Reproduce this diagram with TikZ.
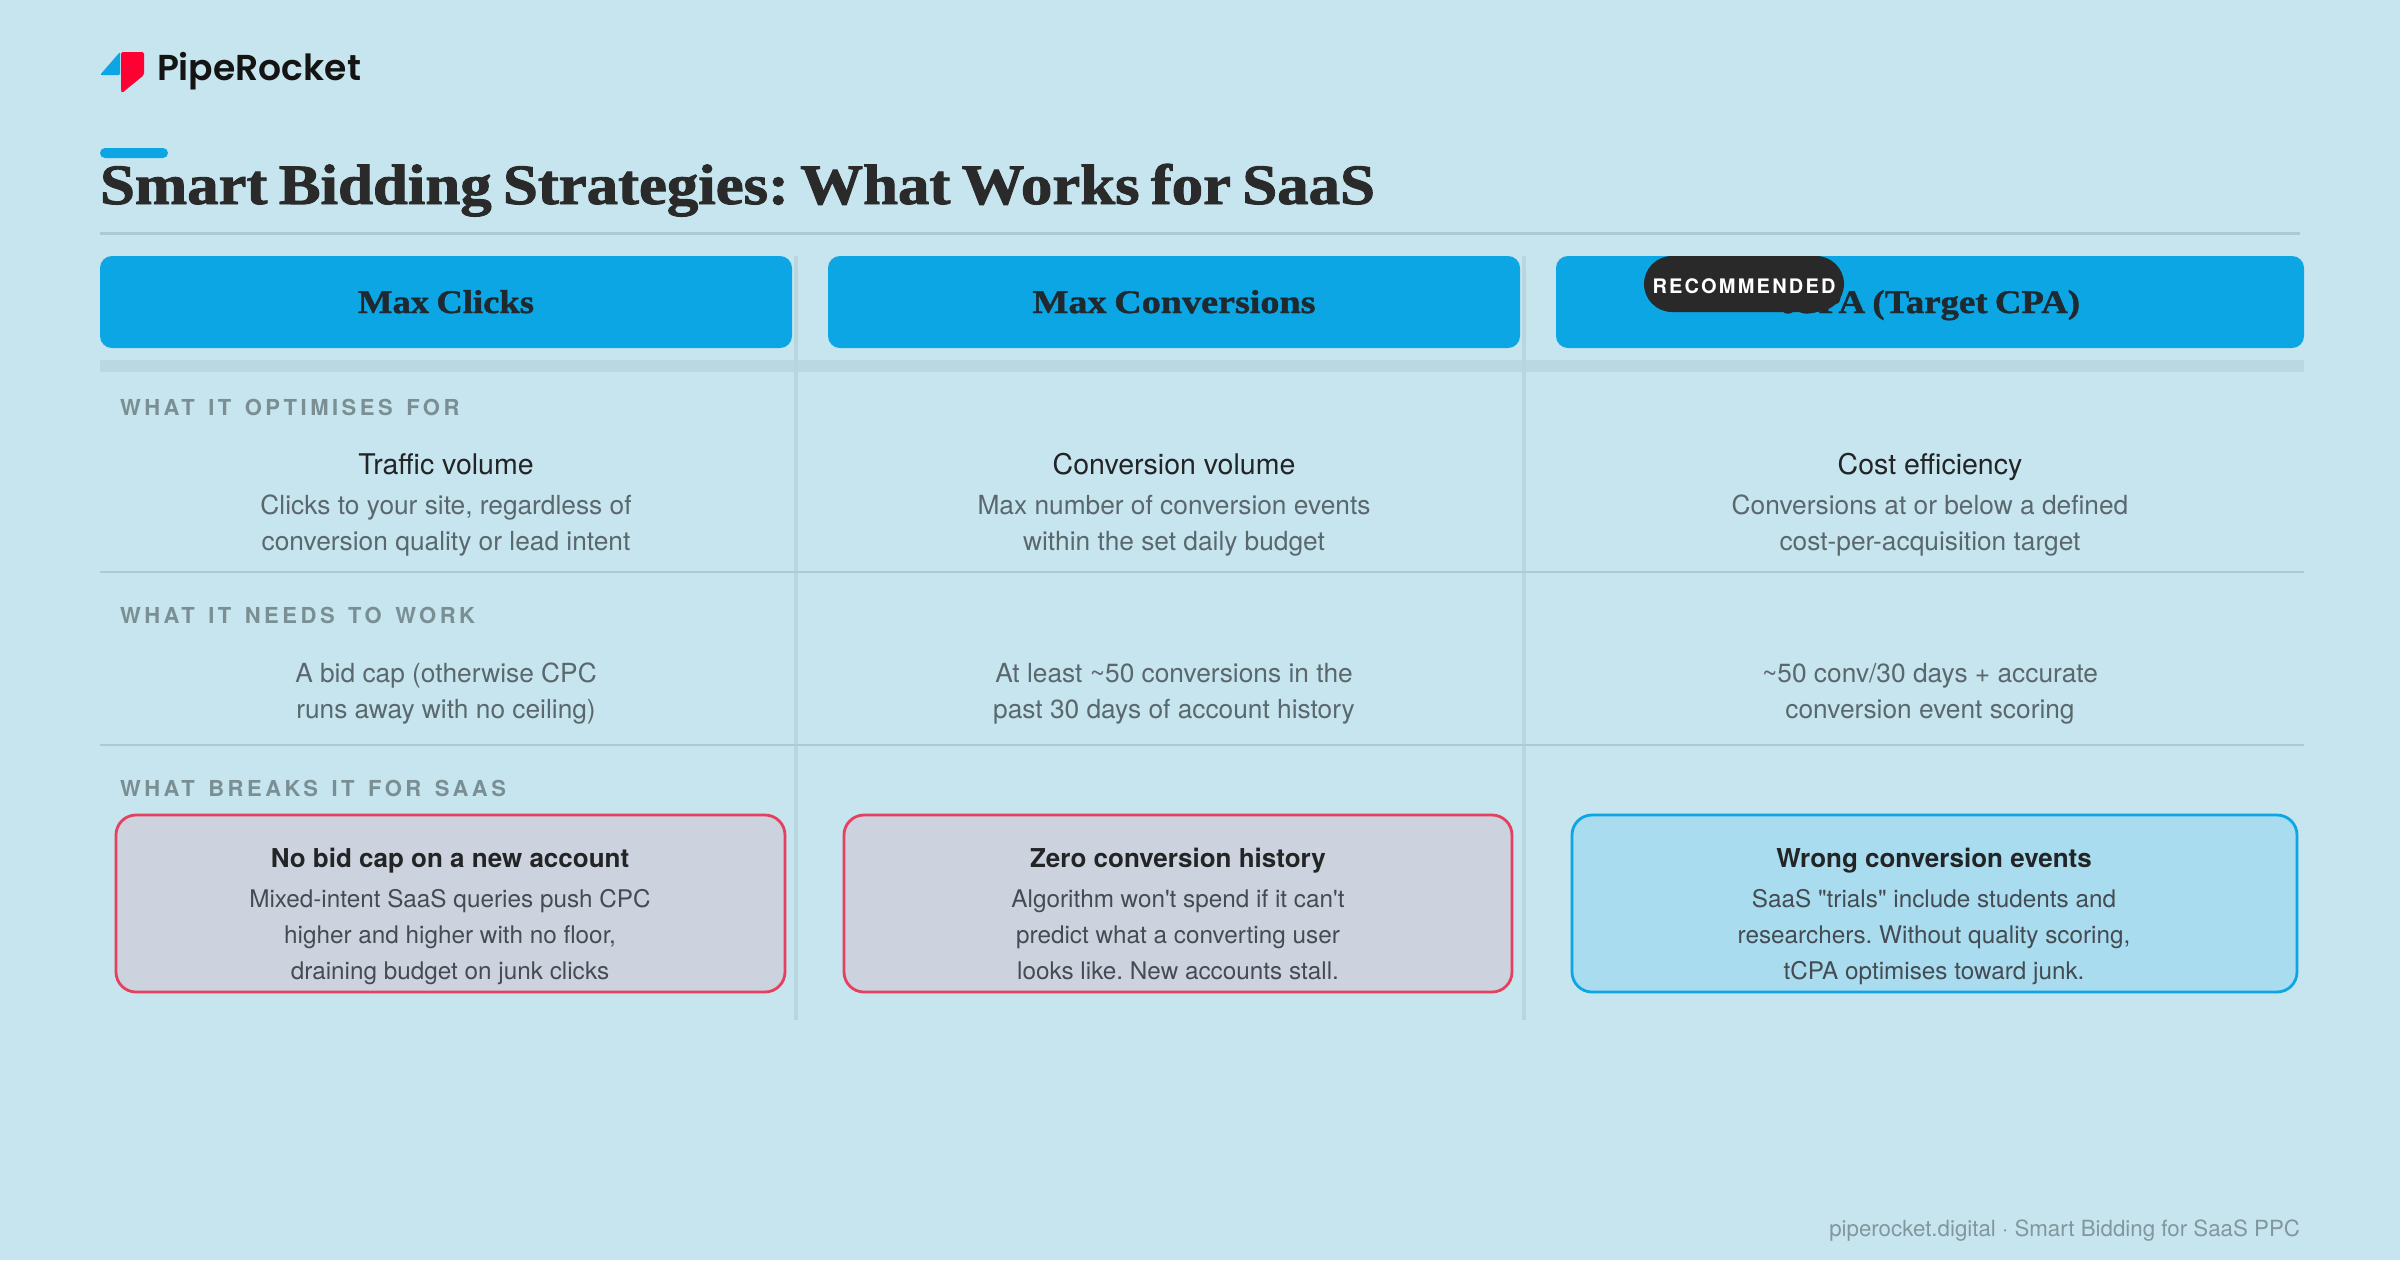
\documentclass[tikz,border=0pt]{standalone}
\usepackage{graphicx}
\usepackage{fontspec}
\setmainfont[Ligatures=TeXOff]{TeX Gyre Heros}
\newfontfamily\logofont{Poppins SemiBold}
\newfontfamily\serifhead[FakeBold=1.6,WordSpace=0.72]{Liberation Serif Bold}
\newfontfamily\serifsub[FakeBold=1.2,WordSpace=0.8]{Liberation Serif Bold}
\newfontfamily\labfont[LetterSpace=16,WordSpace=1.4]{TeX Gyre Heros}
\newfontfamily\badgefont[LetterSpace=11]{TeX Gyre Heros}
\newcommand{\pxs}[1]{\fontsize{\fpeval{#1/2}pt}{\fpeval{#1/2}pt}\selectfont}
\newcommand{\fitw}[2]{\resizebox{\fpeval{#1/2}pt}{\height}{#2}}
\definecolor{bgc}{HTML}{C6E5EE}
\definecolor{skyc}{HTML}{0BA6E3}
\definecolor{rulec}{HTML}{AEC9D2}
\definecolor{vrule}{HTML}{B9D6DF}
\definecolor{bandc}{HTML}{BAD8E1}
\definecolor{inkc}{HTML}{222426}
\definecolor{titlec}{HTML}{2A2A2A}
\definecolor{headc}{HTML}{1E2A30}
\definecolor{subc}{HTML}{5A686E}
\definecolor{labc}{HTML}{7A8F94}
\definecolor{redc}{HTML}{E4405F}
\definecolor{logored}{HTML}{FF0033}
\definecolor{rfill}{HTML}{CCD3DE}
\definecolor{bfill}{HTML}{A9DCEE}
\definecolor{boxsub}{HTML}{454B52}
\definecolor{footc}{HTML}{82979D}
\tikzset{
  txt/.style={anchor=base,inner sep=0pt,outer sep=0pt},
  headbox/.style={fill=skyc,rounded corners=6pt},
  headtxt/.style={txt,text=headc},
  lab/.style={txt,anchor=base west,text=labc},
  main/.style={txt,text=inkc},
  sub/.style={txt,text=subc},
  ctitle/.style={txt,text=inkc},
  csub/.style={txt,text=boxsub},
  redbox/.style={fill=rfill,draw=redc,line width=1.4pt,rounded corners=10pt},
  bluebox/.style={fill=bfill,draw=skyc,line width=1.4pt,rounded corners=10pt},
  hline/.style={draw=rulec,line width=0.9pt},
  vline/.style={draw=vrule,line width=1.8pt}
}
\begin{document}
\frenchspacing
\begin{tikzpicture}[x=0.5pt,y=-0.5pt]
\useasboundingbox (0,0) rectangle (2400,1260);
\fill[bgc] (0,0) rectangle (2400,1260);
% logo
\fill[skyc,rounded corners=0.6pt] (100,75) -- (120,52) -- (120,75) -- cycle;
\fill[logored,rounded corners=0.8pt] (121,52) -- (144,52) -- (144,75) -- (122,93) -- (121,91) -- cycle;
\node[txt,anchor=base west,text=black!92] (logo) at (157,80) {\fitw{204}{\logofont\pxs{36}PipeRocket}};
% title
\fill[skyc,rounded corners=2.5pt] (100,148) rectangle (168,158);
\node[txt,anchor=base west,text=titlec] (title) at (100,204) {\fitw{1275}{\serifhead\pxs{57}Smart Bidding Strategies: What Works for SaaS}};
\draw[rulec,line width=1.5pt] (100,233) -- (2300,233);
% band
\fill[bandc] (100,360) rectangle (2304,372);
% vertical
\draw[vline] (796,256) -- (796,1020);
\draw[vline] (1524,256) -- (1524,1020);
% horizontal
\draw[hline] (100,572) -- (2304,572);
\draw[hline] (100,745) -- (2304,745);
% headers
\fill[headbox] (100,256) rectangle (792,348);
\fill[headbox] (828,256) rectangle (1520,348);
\fill[headbox] (1556,256) rectangle (2304,348);
\node[headtxt] (h1) at (446,313) {\fitw{176}{\serifsub\pxs{33}Max Clicks}};
\node[headtxt] (h2) at (1174,313) {\fitw{283}{\serifsub\pxs{33}Max Conversions}};
\node[headtxt] (h3) at (1930,313) {\fitw{300}{\serifsub\pxs{33}tCPA (Target CPA)}};
\fill[black!84] (1644,256) [rounded corners=14pt] rectangle (1844,312);
\node[txt,text=white] (badge) at (1744,293) {\badgefont\bfseries\pxs{20}RECOMMENDED};
% labels
\node[lab] (l1) at (120,415) {\labfont\bfseries\pxs{22}WHAT IT OPTIMISES FOR};
\node[lab] (l2) at (120,623) {\labfont\bfseries\pxs{22}WHAT IT NEEDS TO WORK};
\node[lab] (l3) at (120,796) {\labfont\bfseries\pxs{22}WHAT BREAKS IT FOR SAAS};
% row 1
\node[main] (a1) at (446,474) {\pxs{28.5}Traffic volume};
\node[sub] (a2) at (446,514) {\pxs{26.3}Clicks to your site, regardless of};
\node[sub] (a3) at (446,550) {\pxs{26.3}conversion quality or lead intent};
\node[main] (b1) at (1174,474) {\pxs{28.5}Conversion volume};
\node[sub] (b2) at (1174,514) {\pxs{26.3}Max number of conversion events};
\node[sub] (b3) at (1174,550) {\pxs{26.3}within the set daily budget};
\node[main] (c1) at (1930,474) {\pxs{28.5}Cost efficiency};
\node[sub] (c2) at (1930,514) {\pxs{26.3}Conversions at or below a defined};
\node[sub] (c3) at (1930,550) {\pxs{26.3}cost-per-acquisition target};
% row 2
\node[sub] (d1) at (446,682) {\pxs{26.3}A bid cap (otherwise CPC};
\node[sub] (d2) at (446,718) {\pxs{26.3}runs away with no ceiling)};
\node[sub] (e1) at (1174,682) {\pxs{26.3}At least \symbol{126}50 conversions in the};
\node[sub] (e2) at (1174,718) {\pxs{26.3}past 30 days of account history};
\node[sub] (f1) at (1930,682) {\pxs{26.3}\symbol{126}50 conv/30 days + accurate};
\node[sub] (f2) at (1930,718) {\pxs{26.3}conversion event scoring};
% row 3
\draw[redbox] (116,815) rectangle (785,992);
\draw[redbox] (844,815) rectangle (1512,992);
\draw[bluebox] (1572,815) rectangle (2297,992);
\node[ctitle] (g0) at (450,867) {\bfseries\pxs{26}No bid cap on a new account};
\node[csub] (g1) at (450,907) {\pxs{24.3}Mixed-intent SaaS queries push CPC};
\node[csub] (g2) at (450,943) {\pxs{24.3}higher and higher with no floor,};
\node[csub] (g3) at (450,979) {\pxs{24.3}draining budget on junk clicks};
\node[ctitle] (i0) at (1178,867) {\bfseries\pxs{26}Zero conversion history};
\node[csub] (i1) at (1178,907) {\pxs{24.3}Algorithm won't spend if it can't};
\node[csub] (i2) at (1178,943) {\pxs{24.3}predict what a converting user};
\node[csub] (i3) at (1178,979) {\pxs{24.3}looks like. New accounts stall.};
\node[ctitle] (k0) at (1934,867) {\bfseries\pxs{26}Wrong conversion events};
\node[csub] (k1) at (1934,907) {\pxs{24.3}SaaS "trials" include students and};
\node[csub] (k2) at (1934,943) {\pxs{24.3}researchers. Without quality scoring,};
\node[csub] (k3) at (1934,979) {\pxs{24.3}tCPA optimises toward junk.};
% footer
\node[txt,anchor=base east,text=footc] (foot) at (2300,1236) {\pxs{22.3}piperocket.digital · Smart Bidding for SaaS PPC};
\end{tikzpicture}
\end{document}
